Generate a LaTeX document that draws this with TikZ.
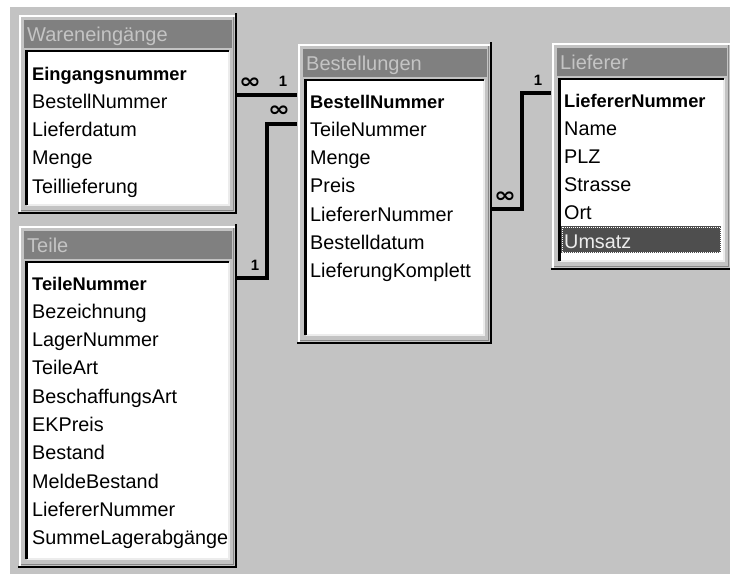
\documentclass[tikz,border=0pt]{standalone}
\usepackage{fontspec}
\setmainfont{Liberation Sans}
\newfontfamily\symfont{DejaVu Sans}

\definecolor{face}{RGB}{195,195,195}
\definecolor{titlebar}{RGB}{128,128,128}
\definecolor{titletext}{RGB}{196,196,196}
\definecolor{shade}{RGB}{135,135,135}
\definecolor{hilite}{RGB}{236,236,236}
\definecolor{selrow}{RGB}{78,78,78}

\tikzset{
  winlight/.style={draw=white, line width=2pt},
  winshade/.style={draw=shade, line width=1.5pt},
  windark/.style={draw=black, line width=2.5pt},
  listdark/.style={draw=black, line width=2.4pt},
  listlight/.style={draw=hilite, line width=2pt},
  caption/.style={anchor=base west, inner sep=0pt, text=titletext,
    font=\fontsize{20}{20}\selectfont},
  field/.style={anchor=base west, inner sep=0pt, text=black,
    font=\fontsize{19.8}{19.8}\selectfont},
  keyfield/.style={field, font=\fontsize{18.3}{18.3}\selectfont\bfseries},
  selfield/.style={field, text=hilite},
  link/.style={draw=black, line width=4pt},
  card/.style={inner sep=0pt, font=\fontsize{15}{15}\selectfont\bfseries},
  many/.style={inner sep=0pt, font=\symfont\fontsize{21}{21}\selectfont\bfseries,
    xscale=1.25},
  tablebox/.style={inner sep=0pt, outer sep=0pt}
}

% One table window: name, left, top, right, bottom, caption
\newcommand\accesswin[6]{%
  \fill[face] (#2,#3) rectangle (#4,#5);
  \draw[winlight] (#2+1.5,#5-1) -- (#2+1.5,#3+1.5) -- (#4-1,#3+1.5);
  \draw[winshade] (#2+3,#5-2.5) -- (#4-2.5,#5-2.5) -- (#4-2.5,#3+3);
  \draw[windark] (#2,#5) -- (#4,#5) -- (#4,#3-1);
  \fill[titlebar] (#2+6,#3+6) rectangle (#4-4,#3+34);
  \node[caption] (#1-title) at (#2+9,#3+27) {#6};
  \fill[white] (#2+8.5,#3+37) rectangle (#4-7,#5-8);
  \draw[listlight] (#2+8.5,#5-8) -- (#4-7,#5-8) -- (#4-7,#3+37);
  \draw[listdark] (#2+8.5,#5-8) -- (#2+8.5,#3+37) -- (#4-7,#3+37);
  \node[tablebox, minimum width={#4-#2}, minimum height={#5-#3}]
    (#1) at ({(#2+#4)/2},{(#3+#5)/2}) {};
}

\begin{document}
\begin{tikzpicture}[x=1pt,y=-1pt]
\useasboundingbox (0,0) rectangle (730,574);
\clip (0,0) rectangle (730,574);
\fill[white] (0,0) rectangle (730,574);
\fill[face] (10,7) rectangle (730,574);

% ---- tables ----
\accesswin{waren}{18}{14}{236}{213}{Wareneingänge}
\node[keyfield] (w1) at (32,80) {Eingangsnummer};
\node[field] (w2) at (32,108) {BestellNummer};
\node[field] (w3) at (32,136) {Lieferdatum};
\node[field] (w4) at (32,164.5) {Menge};
\node[field] (w5) at (32,193) {Teillieferung};

\accesswin{teile}{18}{225}{236}{567}{Teile}
\node[keyfield] (t1) at (32,290) {TeileNummer};
\foreach \txt [count=\i from 1] in {Bezeichnung,LagerNummer,TeileArt,
    BeschaffungsArt,EKPreis,Bestand,MeldeBestand,LiefererNummer,SummeLagerabgänge}
  \node[field] (t\i x) at (32,{290+28.3*\i}) {\txt};

\accesswin{bestell}{297}{43}{491}{343}{Bestellungen}
\node[keyfield] (b1) at (310,108) {BestellNummer};
\foreach \txt [count=\i from 1] in {TeileNummer,Menge,Preis,LiefererNummer,
    Bestelldatum,LieferungKomplett}
  \node[field] (b\i x) at (310,{108+28.3*\i}) {\txt};

\accesswin{lieferer}{551}{42}{731}{269}{Lieferer}
\node[keyfield] (l1) at (564,107) {LiefererNummer};
\foreach \txt [count=\i from 1] in {Name,PLZ,Strasse,Ort}
  \node[field] (l\i x) at (564,{107+28.2*\i}) {\txt};
\fill[selrow] (561,226) rectangle (721,253);
\draw[white, densely dotted, line width=1pt] (562,227) rectangle (720,252);
\node[selfield] (l5x) at (564,248) {Umsatz};

% ---- relationships ----
\draw[link] (waren.east |- 0,95) -- (bestell.west |- 0,95);
\node[many] (r1m) at (250,83) {∞};
\node[card] (r1o) at (283,81) {1};

\draw[link] (teile.east |- 0,278) -- ++(31,0) |- (bestell.west |- 0,124);
\node[card] (r2o) at (255,265) {1};
\node[many] (r2m) at (279,111) {∞};

\draw[link] (bestell.east |- 0,209) -- ++(31,0) |- (lieferer.west |- 0,93);
\node[many] (r3m) at (505,197) {∞};
\node[card] (r3o) at (538,80) {1};
\end{tikzpicture}
\end{document}
